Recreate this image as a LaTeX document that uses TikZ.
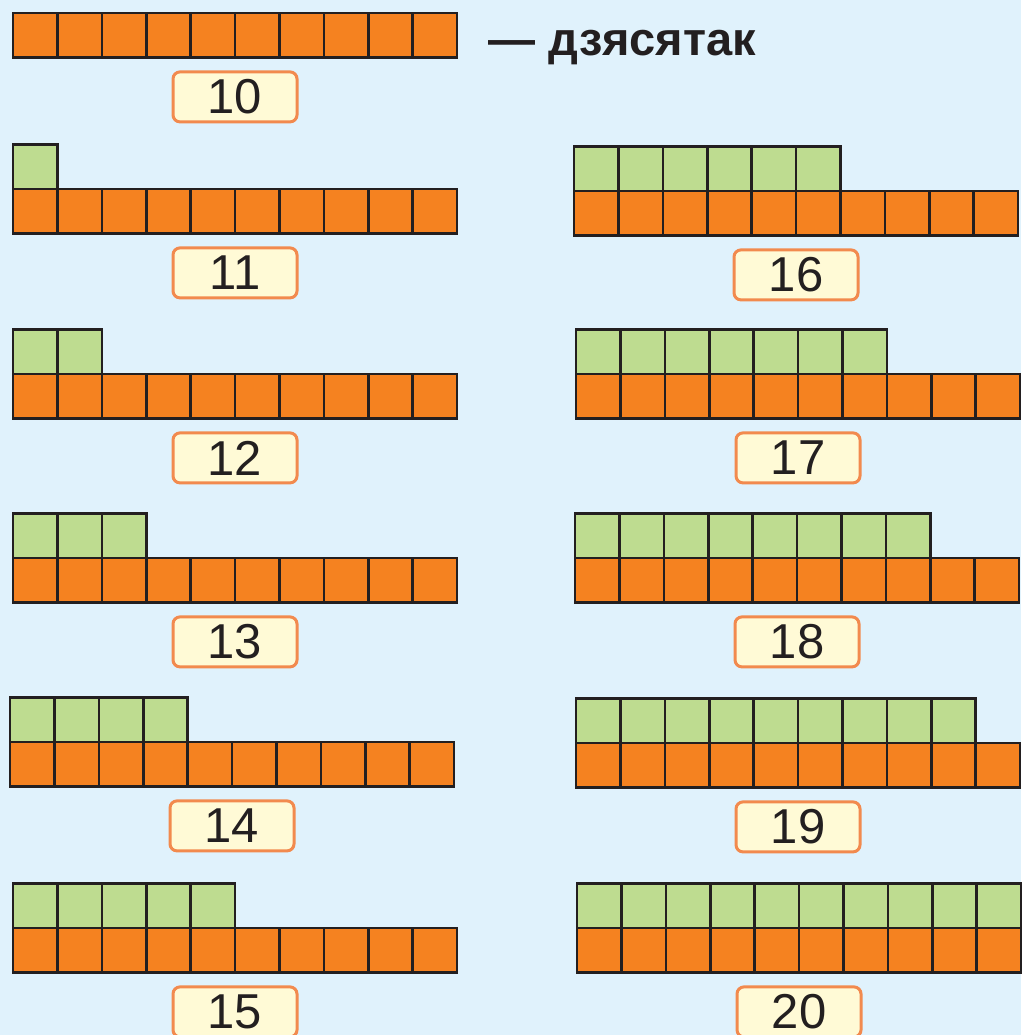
\documentclass[tikz,border=0pt]{standalone}
\usepackage{fontspec}
\setmainfont{Liberation Sans}
\usetikzlibrary{positioning}
\definecolor{skyback}{HTML}{E0F2FC}
\definecolor{tenorange}{HTML}{F58220}
\definecolor{unitgreen}{HTML}{BEDC90}
\definecolor{cellline}{HTML}{231F20}
\definecolor{boxedge}{HTML}{F28A4E}
\definecolor{boxfill}{HTML}{FFFAD6}

% name, left x, top y of the orange row, green cells, number
\newcommand{\tenblock}[5]{%
    \foreach \i in {0,...,9}
        \node[tencell] (#1o\i) at (#2+\i*44.4, #3) {};
    \ifnum#4>0
        \foreach \i in {1,...,#4}
            \node[unitcell] (#1g\i) at (#2+\i*44.4-44.4, #3-44.4) {};
    \fi
    \coordinate (#1mid) at (#2+222, #3+44.4);
    \node[numbox, below=13pt of #1mid] (#1num) {#5};
}

\begin{document}
\begin{tikzpicture}[x=1pt, y=-1pt,
    tencell/.style={draw=cellline, fill=tenorange, line width=2.6pt, anchor=north west,
        minimum size=44.4pt, inner sep=0pt, outer sep=0pt},
    unitcell/.style={tencell, fill=unitgreen},
    numbox/.style={draw=boxedge, fill=boxfill, line width=3pt, rounded corners=7pt,
        minimum width=124pt, minimum height=50pt, inner sep=0pt,
        text=cellline, font=\fontsize{49}{49}\selectfont}]
    \fill[skyback] (0,0) rectangle (1021,1035);
    \useasboundingbox (0,0) rectangle (1021,1035);

    \tenblock{ten}{13}{13}{0}{10}
    \node[anchor=west, text=cellline, font=\fontsize{47}{47}\selectfont\bfseries]
        (word) at (485,48) {— дзясятак};

    % left column
    \tenblock{b11}{13}{189}{1}{11}
    \tenblock{b12}{13}{374}{2}{12}
    \tenblock{b13}{13}{558}{3}{13}
    \tenblock{b14}{10}{742}{4}{14}
    \tenblock{b15}{13}{928}{5}{15}

    % right column
    \tenblock{b16}{574}{191}{6}{16}
    \tenblock{b17}{576}{374}{7}{17}
    \tenblock{b18}{575}{558}{8}{18}
    \tenblock{b19}{576}{743}{9}{19}
    \tenblock{b20}{577}{928}{10}{20}
\end{tikzpicture}
\end{document}
